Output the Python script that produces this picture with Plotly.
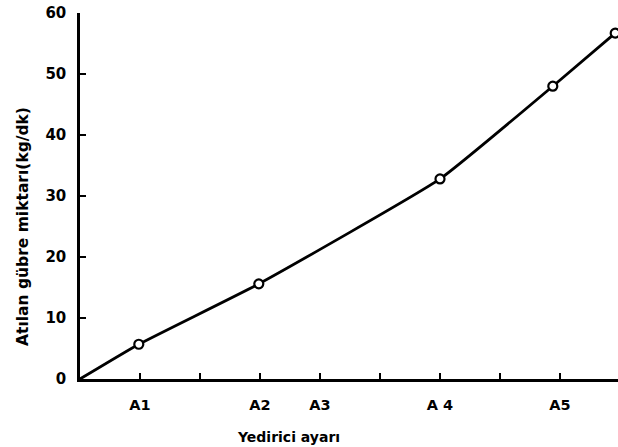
import plotly.graph_objects as go

# Data
x_vals = [0, 0.98, 2.98, 6.0, 7.88, 8.92]
y_vals = [0, 5.7, 15.6, 32.8, 48.0, 56.7]
marker_flags = [False, True, True, True, True, True]

tick_positions = [1, 2, 3, 4, 5, 6, 7, 8]
tick_labels = ["A1", "", "A2", "A3", "", "A 4", "", "A5"]
y_ticks = [0, 10, 20, 30, 40, 50, 60]

x_title = "Yedirici ayarı"
y_title = "Atılan gübre miktarı(kg/dk)"

W, H = 618, 447
ml, mr, mt, mb = 80, 0, 13, 68

FONT = "DejaVu Sans"

fig = go.Figure()
fig.add_trace(go.Scatter(
    x=x_vals, y=y_vals, mode="lines",
    line=dict(color="black", width=2.8, shape="spline", smoothing=0.4),
    showlegend=False, hoverinfo="skip",
))
fig.add_trace(go.Scatter(
    x=[x for x, f in zip(x_vals, marker_flags) if f],
    y=[y for y, f in zip(y_vals, marker_flags) if f],
    mode="markers",
    marker=dict(symbol="circle", size=9, color="white",
                line=dict(color="black", width=2.2)),
    showlegend=False, hoverinfo="skip",
))

fig.update_layout(
    width=W, height=H,
    margin=dict(l=ml, r=mr, t=mt, b=mb, pad=0),
    paper_bgcolor="white", plot_bgcolor="white",
    xaxis=dict(
        range=[0, (W - ml) / 60.0],
        tickmode="array", tickvals=tick_positions, ticktext=tick_labels,
        ticks="inside", ticklen=6, tickwidth=2, tickcolor="black",
        showline=True, linecolor="black", linewidth=2.5,
        showgrid=False, zeroline=False,
        tickfont=dict(family=FONT, size=14.5, color="black", weight="bold"),
        ticklabelstandoff=11,
    ),
    yaxis=dict(
        range=[0, 60],
        tickmode="array", tickvals=y_ticks,
        ticks="inside", ticklen=6, tickwidth=2, tickcolor="black",
        showline=True, linecolor="black", linewidth=2.5,
        showgrid=False, zeroline=False,
        tickfont=dict(family=FONT, size=15, color="black", weight="bold"),
        ticklabelstandoff=8,
    ),
    annotations=[
        dict(text=x_title, xref="paper", yref="paper",
             x=(288 - ml) / (W - ml), y=(379 - 437) / (H - mt - mb),
             xanchor="center", yanchor="middle", showarrow=False,
             font=dict(family=FONT, size=14, color="black", weight="bold")),
        dict(text=y_title, xref="paper", yref="paper",
             x=(23 - ml) / (W - ml), y=(379 - 227) / (H - mt - mb),
             xanchor="center", yanchor="middle", showarrow=False, textangle=-90,
             font=dict(family=FONT, size=15.5, color="black", weight="bold")),
    ],
)

fig.write_html(
    "out.html",
    config={"displayModeBar": False},
    post_script="document.body.style.margin='0';document.body.style.overflow='hidden';",
)
